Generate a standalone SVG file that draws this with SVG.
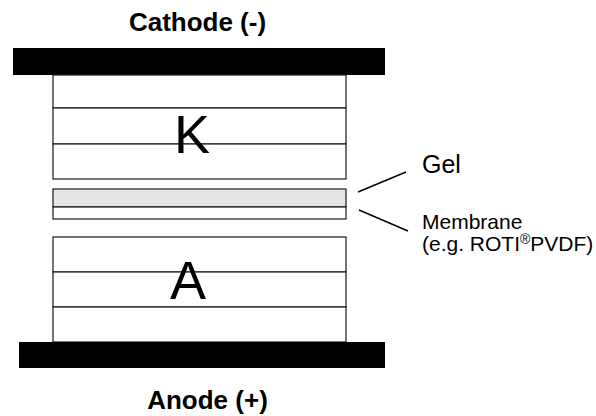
<svg xmlns="http://www.w3.org/2000/svg" width="596" height="416" viewBox="0 0 596 416">
<style>
.bar{fill:#000}
.layer{fill:#fff;stroke:#1a1a1a;stroke-width:1.2}
.gel{fill:#e6e6e6;stroke:#1a1a1a;stroke-width:1.2}
.big{font-family:"Liberation Sans",Arial,sans-serif;font-size:54px;fill:#000;text-anchor:middle}
.title{font-family:"Liberation Sans",Arial,sans-serif;font-size:26px;font-weight:bold;fill:#000;text-anchor:middle}
.lbl{font-family:"Liberation Sans",Arial,sans-serif;font-size:25px;fill:#000}
.sm{font-family:"Liberation Sans",Arial,sans-serif;font-size:21px;fill:#000}
.conn{stroke:#000;stroke-width:1.5;fill:none}
</style>
<rect width="596" height="416" fill="#fff"/>
<g id="cathode-label"><text class="title" x="197.5" y="31">Cathode (-)</text></g>
<g id="cathode-plate"><rect class="bar" x="13" y="48" width="372" height="27"/></g>
<g id="cathode-stack">
<rect class="layer" x="53" y="75" width="293" height="33"/>
<rect class="layer" x="53" y="108" width="293" height="36"/>
<rect class="layer" x="53" y="144" width="293" height="35"/>
<text class="big" x="192" y="153">K</text>
</g>
<g id="gel"><rect class="gel" x="53" y="189" width="293" height="18"/></g>
<g id="membrane"><rect class="layer" x="53" y="207" width="293" height="12"/></g>
<g id="anode-stack">
<rect class="layer" x="53" y="237" width="293" height="35"/>
<rect class="layer" x="53" y="272" width="293" height="35"/>
<rect class="layer" x="53" y="307" width="293" height="35"/>
<text class="big" x="188" y="299">A</text>
</g>
<g id="anode-plate"><rect class="bar" x="19" y="342" width="366" height="26"/></g>
<g id="anode-label"><text class="title" x="207.5" y="409">Anode (+)</text></g>
<g id="gel-label"><text class="lbl" x="422" y="173">Gel</text></g>
<g id="membrane-label"><text class="sm" x="422" y="229">Membrane</text><text class="sm" x="422" y="251">(e.g. ROTI<tspan font-size="14" dy="-7">®</tspan><tspan dy="7">PVDF)</tspan></text></g>
<g id="connectors">
<line class="conn" x1="358" y1="192" x2="406" y2="172"/>
<line class="conn" x1="359" y1="210" x2="408" y2="231"/>
</g>
</svg>
